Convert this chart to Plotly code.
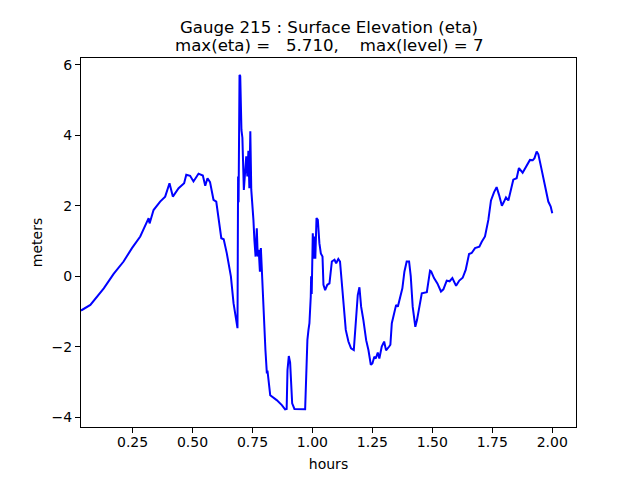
import plotly.graph_objects as go

hours = [0.035, 0.074, 0.130, 0.171, 0.2125, 0.2475, 0.282, 0.303, 0.317, 0.321, 0.3375,
         0.365, 0.386, 0.404, 0.418, 0.442, 0.465, 0.474, 0.49, 0.504, 0.525, 0.543,
         0.553, 0.5625, 0.573, 0.5875, 0.599, 0.62, 0.63, 0.643, 0.66, 0.671, 0.6875,
         0.690, 0.692, 0.696, 0.699, 0.704, 0.708, 0.714, 0.7185, 0.724, 0.7285, 0.733,
         0.737, 0.741, 0.745, 0.749, 0.754, 0.758, 0.763, 0.768, 0.772, 0.776, 0.781,
         0.785, 0.790, 0.796, 0.804, 0.81, 0.8125, 0.824, 0.851, 0.8725, 0.886, 0.8925,
         0.896, 0.9015, 0.907, 0.9155, 0.925, 0.9696, 0.974, 0.979, 0.9835, 0.9875,
         0.993, 0.9946, 0.997, 1.0, 1.0015, 1.005, 1.0085, 1.012, 1.017, 1.0225, 1.029,
         1.035, 1.042, 1.046, 1.053, 1.062, 1.071, 1.081, 1.092, 1.099, 1.108, 1.115,
         1.127, 1.139, 1.15, 1.161, 1.1725, 1.181, 1.189, 1.196, 1.203, 1.2125, 1.224,
         1.2335, 1.2435, 1.25, 1.258, 1.264, 1.2725, 1.279, 1.289, 1.299, 1.307, 1.32,
         1.325, 1.331, 1.340, 1.349, 1.356, 1.365, 1.375, 1.3835, 1.393, 1.403, 1.41,
         1.418, 1.429, 1.436, 1.449, 1.456, 1.477, 1.4904, 1.495, 1.507, 1.521, 1.536,
         1.546, 1.56, 1.572, 1.5835, 1.599, 1.6125, 1.6265, 1.639, 1.653, 1.664, 1.678,
         1.696, 1.706, 1.7195, 1.7335, 1.7445, 1.757, 1.768, 1.778, 1.790, 1.799, 1.807,
         1.817, 1.8265, 1.8375, 1.8515, 1.861, 1.8765, 1.8905, 1.907, 1.9185, 1.926,
         1.935, 1.942, 1.953, 1.9655, 1.9765, 1.9835, 1.9935, 2.0]

eta = [-0.97, -0.81, -0.34, 0.07, 0.42, 0.80, 1.13, 1.46, 1.65, 1.50, 1.88,
       2.12, 2.26, 2.64, 2.26, 2.50, 2.64, 2.88, 2.85, 2.69, 2.91, 2.86,
       2.57, 2.78, 2.67, 2.17, 2.12, 1.08, 1.05, 0.65, 0.0, -0.76, -1.47,
       2.83, 2.10, 5.71, 5.68, 4.15, 3.93, 2.45, 2.83, 3.40, 2.83, 3.56,
       2.50, 4.11, 2.45, 2.12, 1.60, 1.03, 0.56, 1.36, 0.56, 0.75, 0.13,
       0.80, -0.05, -0.76, -2.09, -2.75, -2.67, -3.37, -3.51, -3.65, -3.77, -3.76,
       -2.66, -2.26, -2.45, -3.60, -3.76, -3.77, -2.75, -1.80, -1.52, -1.33,
       -0.58, 0.0, -0.5, 0.28, 1.22, 0.5, 1.13, 0.5, 1.65, 1.60, 0.94,
       0.65, 0.56, -0.24, -0.39, -0.24, -0.20, 0.42, 0.47, 0.37, 0.49, 0.42,
       -0.53, -1.52, -1.85, -2.04, -2.09, -1.24, -0.53, -0.31, -0.86, -1.24, -1.81,
       -2.09, -2.51, -2.47, -2.28, -2.33, -2.16, -2.33, -1.99, -1.85, -2.10, -1.99,
       -1.94, -1.33, -1.10, -0.81, -0.86, -0.58, -0.34, 0.13, 0.42, 0.42, 0.0,
       -0.86, -1.43, -1.24, -0.76, -0.48, -0.45, 0.16, 0.14, -0.05, -0.20, -0.43,
       -0.37, -0.12, -0.14, -0.05, -0.27, -0.12, -0.04, 0.18, 0.63, 0.66, 0.80,
       0.84, 0.98, 1.13, 1.60, 2.15, 2.38, 2.53, 2.31, 2.00, 2.12, 2.24,
       2.15, 2.45, 2.74, 2.78, 3.07, 2.94, 3.11, 3.30, 3.29, 3.35,
       3.54, 3.46, 3.11, 2.74, 2.41, 2.12, 1.98, 1.79]

x_ticks = [0.25, 0.50, 0.75, 1.00, 1.25, 1.50, 1.75, 2.00]
x_tick_labels = ["0.25", "0.50", "0.75", "1.00", "1.25", "1.50", "1.75", "2.00"]
y_ticks = [-4, -2, 0, 2, 4, 6]
y_tick_labels = ["\u22124", "\u22122", "0", "2", "4", "6"]

title_line1 = "Gauge 215 : Surface Elevation (eta)"
title_line2 = "max(eta) =\u00a0\u00a0\u00a05.710,\u00a0\u00a0\u00a0\u00a0max(level) = 7"

FONT = "DejaVu Sans"

fig = go.Figure()
fig.add_trace(go.Scatter(x=hours, y=eta, mode="lines",
                         line=dict(color="#0000ff", width=2), showlegend=False))

axis_common = dict(showline=True, linecolor="black", linewidth=1, mirror=True,
                   ticks="outside", ticklen=5, tickwidth=1, tickcolor="black",
                   showgrid=False, zeroline=False, automargin=False,
                   tickfont=dict(family=FONT, size=14, color="black"))

fig.update_layout(
    width=624, height=464,
    margin=dict(l=73, r=56, t=50, b=45),
    paper_bgcolor="white", plot_bgcolor="white",
    font=dict(family=FONT, color="black"),
    xaxis=dict(range=[0.035, 2.099], tickvals=x_ticks, ticktext=x_tick_labels,
               ticklabelstandoff=-3,
               title=dict(text="hours", font=dict(family=FONT, size=14), standoff=10),
               **axis_common),
    yaxis=dict(range=[-4.272, 6.19], tickvals=y_ticks, ticktext=y_tick_labels,
               title=dict(text="meters", font=dict(family=FONT, size=14), standoff=5),
               **axis_common),
    annotations=[
        dict(text=title_line1, xref="paper", yref="paper", x=0.5, y=1,
             xanchor="center", yanchor="middle", yshift=31, showarrow=False,
             font=dict(family=FONT, size=16.6, color="black")),
        dict(text=title_line2, xref="paper", yref="paper", x=0.5, y=1,
             xanchor="center", yanchor="middle", yshift=12.5, showarrow=False,
             font=dict(family=FONT, size=16.6, color="black")),
    ],
)

fig.write_html("out.html")
